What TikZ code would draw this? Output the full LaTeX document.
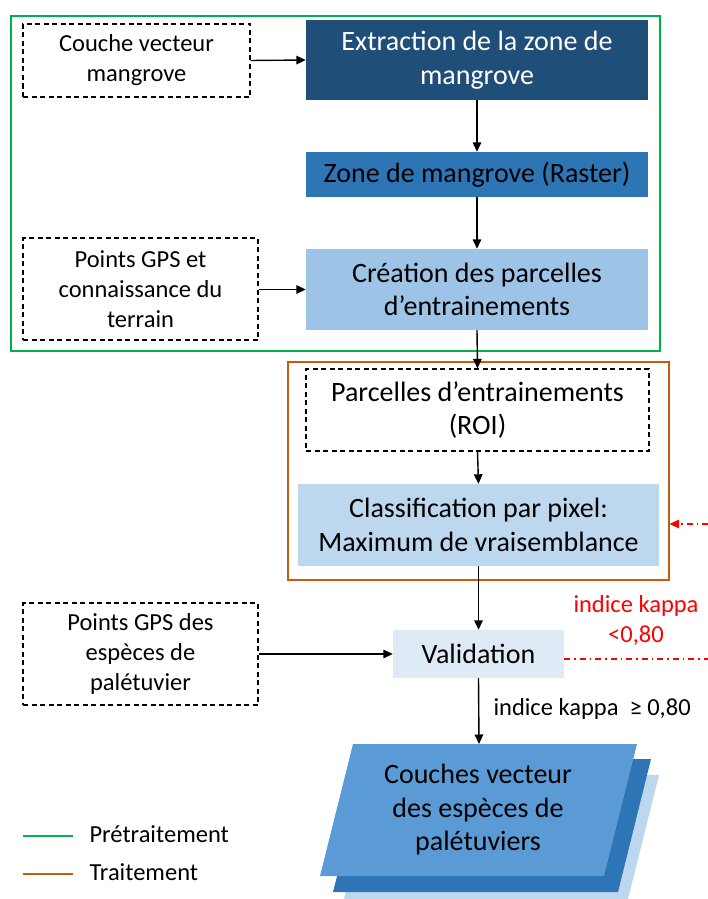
\documentclass[tikz,border=0pt]{standalone}
\usepackage{fontspec}
\setmainfont{Carlito}
\usetikzlibrary{arrows.meta}
\definecolor{cdark}{HTML}{1F4E79}
\definecolor{cmid}{HTML}{2E75B6}
\definecolor{clight}{HTML}{9DC3E6}
\definecolor{clighter}{HTML}{BDD7EE}
\definecolor{clightest}{HTML}{DEEBF7}
\definecolor{cfront}{HTML}{5B9BD5}
\definecolor{cgreen}{HTML}{00B050}
\definecolor{corange}{HTML}{C55A11}
\definecolor{cred}{HTML}{FF0000}
\newcommand\bigf{\fontsize{28}{33.5}\selectfont}
\newcommand\smallf{\fontsize{24.5}{30}\selectfont}
\tikzset{
  box/.style={rectangle, inner sep=0pt, align=center, font=\bigf},
  dbox/.style={rectangle, inner sep=0pt, align=center, font=\smallf, draw=black, line width=1.2pt, dash pattern=on 5pt off 3.5pt},
  arr/.style={draw=black, line width=1.4pt, -{Triangle[length=9.5pt,width=8.5pt]}},
  reddash/.style={draw=cred, line width=1.2pt, dash pattern=on 6pt off 4pt on 1.5pt off 4pt},
  frame/.style={line width=1.5pt},
}
\begin{document}
\begin{tikzpicture}[x=1pt,y=-1pt]
\useasboundingbox (0,0) rectangle (708,899);
\clip (0,0) rectangle (708,899);
% frames
\draw[frame, draw=cgreen] (11,16) rectangle (660,351);
\draw[frame, draw=corange] (288,362) rectangle (669,580);
% nodes
\node[dbox, minimum width=227pt, minimum height=73pt] (couche) at (136.5,60.5) {Couche vecteur\\mangrove};
\node[box, fill=cdark, text=white, minimum width=342pt, minimum height=80pt] (extr) at (477,60) {Extraction de la zone de\\mangrove};
\node[box, fill=cmid, minimum width=342pt, minimum height=45pt] (zone) at (477,174.5) {Zone de mangrove (Raster)};
\node[dbox, minimum width=235pt, minimum height=102pt] (gps1) at (140.5,289) {Points GPS et\\connaissance du\\terrain};
\node[box, fill=clight, minimum width=342pt, minimum height=81pt] (crea) at (477,289.5) {Création des parcelles\\d’entrainements};
\node[dbox, font=\bigf, minimum width=343pt, minimum height=82pt] (roi) at (477.5,410) {Parcelles d’entrainements\\(ROI)};
\node[box, fill=clighter, minimum width=361pt, minimum height=82pt] (classif) at (478.5,525) {Classification par pixel:\\Maximum de vraisemblance};
\node[box, fill=clightest, minimum width=171pt, minimum height=48pt] (valid) at (478.5,654) {Validation};
\node[dbox, minimum width=235pt, minimum height=102pt] (gps2) at (140.5,654) {Points GPS des\\espèces de\\palétuvier};
% output stack
\fill[clighter] (375,775) -- (659,775) -- (626,907) -- (342,907) -- cycle;
\fill[cmid] (367,759) -- (651,759) -- (618,892) -- (333,892) -- cycle;
\fill[cfront] (353,744) -- (637,744) -- (604,876) -- (320,876) -- cycle;
\coordinate (outtop) at (479,744);
\node[box, font=\bigf] (out) at (478,810) {Couches vecteur\\des espèces de\\palétuviers};
% arrows
\draw[arr] (couche.east) -- (extr.west);
\draw[arr] (extr.south) -- (zone.north);
\draw[arr] (zone.south) -- (crea.north);
\draw[arr] (gps1.east |- crea.west) -- (crea.west);
\draw[arr] (crea.south) -- (roi.north);
\draw[arr] (roi.south) -- (classif.north);
\draw[arr] (classif.south) -- (valid.north);
\draw[arr] (gps2.east) -- (valid.west);
\draw[arr] (valid.south) -- (outtop);
\node[font=\smallf, anchor=west] (ok) at (490,709) {indice kappa\ \ ≥ 0,80};
% red loop
\coordinate (redA) at (708,659);
\coordinate (redB) at (708,524);
\draw[reddash] (valid.east |- redA) -- (redA);
\draw[reddash, -{Triangle[length=9.5pt,width=8.5pt]}] (redB) -- (669.5,524);
\node[font=\smallf, text=cred, align=center] (ko) at (636,621) {indice kappa\\<0,80};
% legend
\coordinate (lg1a) at (23,836); \coordinate (lg1b) at (73,836);
\coordinate (lg2a) at (23,874); \coordinate (lg2b) at (73,874);
\draw[cgreen, line width=1.8pt] (lg1a) -- (lg1b);
\draw[corange, line width=1.8pt] (lg2a) -- (lg2b);
\node[font=\smallf, anchor=west] (lgt1) at (86,834) {Prétraitement};
\node[font=\smallf, anchor=west] (lgt2) at (86,872) {Traitement};
\end{tikzpicture}
\end{document}
